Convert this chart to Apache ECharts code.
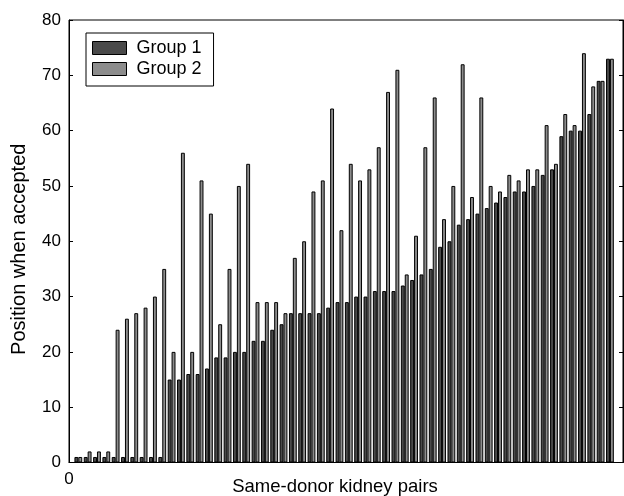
<!DOCTYPE html>
<html>
<head>
<meta charset="utf-8">
<script src="https://cdn.jsdelivr.net/npm/echarts@6/dist/echarts.min.js"></script>
<style>
html,body{margin:0;padding:0;background:#fff;}
#chart{width:624px;height:496px;}
</style>
</head>
<body>
<div id="chart"></div>
<script>
const pairs = [1,2,3,4,5,6,7,8,9,10,11,12,13,14,15,16,17,18,19,20,21,22,23,24,25,26,27,28,29,30,31,32,33,34,35,36,37,38,39,40,41,42,43,44,45,46,47,48,49,50,51,52,53,54,55,56,57,58];
const group1 = [1,1,1,1,1,1,1,1,1,1, 15,15,16,16,17,19,19,20,20,22, 22,24,25,27,27,27,27,28,29,29, 30,30,31,31,31,32,33,34,35,39, 40,43,44,45,46,47,48,49,49,50, 52,53,59,60,60,63,69,73];
const group2 = [1,2,2,2,24,26,27,28,30,35, 20,56,20,51,45,25,35,50,54,29, 29,29,27,37,40,49,51,64,42,54, 51,53,57,67,71,34,41,57,66,44, 50,72,48,66,50,49,52,51,53,53, 61,54,63,61,74,68,69,73];
const seriesNames = ['Group 1', 'Group 2'];
const yTicks = [0,10,20,30,40,50,60,70,80];
const xTitle = 'Same-donor kidney pairs';
const yTitle = 'Position when accepted';

const FONT = '"Liberation Sans", Arial, Helvetica, sans-serif';
const chart = echarts.init(document.getElementById('chart'), null, {renderer: 'canvas'});
const option = {
  animation: false,
  backgroundColor: '#fff',
  grid: {left: 69, top: 20, width: 554, height: 442.5, show: true, borderColor: '#000', borderWidth: 1,
    backgroundColor: 'transparent', containLabel: false, outerBoundsMode: 'none'},
  legend: {
    orient: 'vertical', left: 86, top: 33,
    data: seriesNames,
    icon: 'rect', itemWidth: 34, itemHeight: 13, itemGap: 3,
    borderColor: '#000', borderWidth: 1, padding: [6, 12, 8, 6],
    itemStyle: {borderColor: '#000', borderWidth: 1},
    textStyle: {fontFamily: FONT, fontSize: 18, color: '#000', padding: [0, 0, 0, 5]}
  },
  xAxis: {
    type: 'value', min: 0, max: 59.4, interval: 100,
    name: xTitle, nameLocation: 'middle', nameGap: 15, nameMoveOverlap: false,
    nameTextStyle: {fontFamily: FONT, fontSize: 18.5, color: '#000', padding: [0, 22, 0, 0]},
    axisLine: {show: true, lineStyle: {color: '#000', width: 1}},
    axisTick: {show: false},
    splitLine: {show: false},
    axisLabel: {fontFamily: FONT, fontSize: 17, color: '#000', margin: 8, showMaxLabel: false,
      formatter: v => (v === 0 ? '0' : '')}
  },
  yAxis: [{
    type: 'value', min: yTicks[0], max: yTicks[yTicks.length - 1], interval: 10,
    name: yTitle, nameLocation: 'middle', nameGap: 40, nameMoveOverlap: false,
    nameTextStyle: {fontFamily: FONT, fontSize: 20, color: '#000', padding: [0, 16, 0, 0]},
    axisLine: {show: true, lineStyle: {color: '#000', width: 1}},
    axisTick: {show: true, inside: true, length: 4, lineStyle: {color: '#000'}},
    splitLine: {show: false},
    axisLabel: {fontFamily: FONT, fontSize: 17, color: '#000', margin: 8}
  }, {
    type: 'value', min: yTicks[0], max: yTicks[yTicks.length - 1], interval: 10, position: 'right',
    axisLine: {show: true, lineStyle: {color: '#000', width: 1}},
    axisTick: {show: true, inside: true, length: 4, lineStyle: {color: '#000'}},
    splitLine: {show: false},
    axisLabel: {show: false}
  }],
  series: [{
    name: seriesNames[0], type: 'bar',
    data: pairs.map((p, i) => [p, group1[i]]),
    barWidth: 3.9, barGap: '0%',
    itemStyle: {color: '#4a4a4a', borderColor: '#000', borderWidth: 1}
  }, {
    name: seriesNames[1], type: 'bar',
    data: pairs.map((p, i) => [p, group2[i]]),
    barWidth: 3.9, barGap: '0%',
    itemStyle: {color: '#8c8c8c', borderColor: '#000', borderWidth: 1}
  }]
};
chart.setOption(option);
</script>
</body>
</html>
